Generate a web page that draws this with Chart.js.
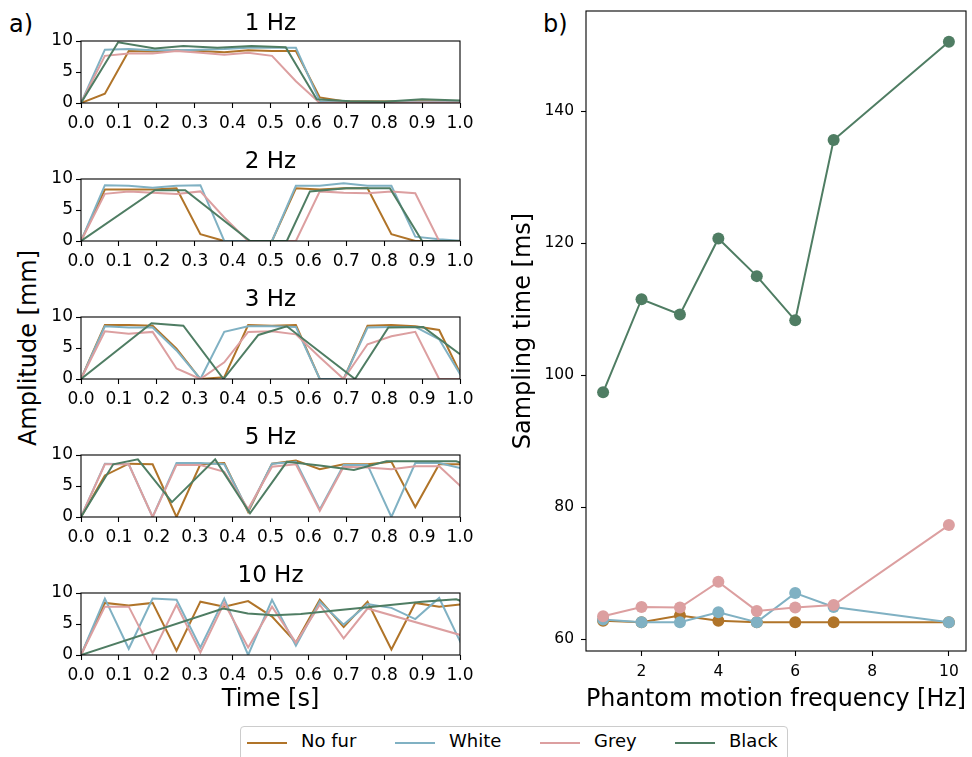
<!DOCTYPE html>
<html>
<head>
<meta charset="utf-8">
<script src="https://cdn.jsdelivr.net/npm/chart.js@4.4.1/dist/chart.umd.min.js"></script>
<style>
  html, body { margin: 0; padding: 0; background: #fff; }
  body { width: 972px; height: 757px; position: relative; overflow: hidden;
         font-family: 'DejaVu Sans', sans-serif; color: #000; }
  canvas { position: absolute; }
  .txt { position: absolute; white-space: nowrap; line-height: 1; }
  #legend { position: absolute; left: 240px; top: 726px; width: 548px; height: 44px;
            border: 1px solid #cccccc; border-radius: 4px; background: #fff; box-sizing: border-box; }
  .sw { position: absolute; height: 2px; top: 15px; width: 40px; }
  .lt { position: absolute; top: 5px; font-size: 18px; line-height: 1; white-space: nowrap; }
</style>
</head>
<body>

<div class="txt" style="left:9px;top:12px;font-size:24px;">a)</div>
<div class="txt" style="left:543px;top:12px;font-size:24px;">b)</div>
<div class="txt" style="left:28px;top:348px;font-size:24px;transform:translate(-50%,-50%) rotate(-90deg);">Amplitude [mm]</div>

<canvas id="c1" width="480" height="133" style="left:0;top:0;"></canvas>
<canvas id="c2" width="480" height="133" style="left:0;top:138px;"></canvas>
<canvas id="c3" width="480" height="133" style="left:0;top:276px;"></canvas>
<canvas id="c5" width="480" height="133" style="left:0;top:414px;"></canvas>
<canvas id="c10" width="480" height="162" style="left:0;top:552px;"></canvas>
<canvas id="cb" width="482" height="714" style="left:490px;top:0;"></canvas>

<div id="legend">
  <div class="sw" style="left:6px;background:#b07429;"></div><div class="lt" style="left:60px;">No fur</div>
  <div class="sw" style="left:154px;background:#80b1c3;"></div><div class="lt" style="left:208px;">White</div>
  <div class="sw" style="left:299px;background:#dc9fa0;"></div><div class="lt" style="left:353px;">Grey</div>
  <div class="sw" style="left:434px;background:#4f7d63;"></div><div class="lt" style="left:488px;">Black</div>
</div>

<script>
// ---- series labels and colours ----
const seriesNames = ['No fur', 'White', 'Grey', 'Black'];
const seriesColors = ['#b07429', '#80b1c3', '#dc9fa0', '#4f7d63'];

// ---- axis ticks ----
const timeTicks = [0, 0.1, 0.2, 0.3, 0.4, 0.5, 0.6, 0.7, 0.8, 0.9, 1.0];
const timeTickLabels = ['0.0', '0.1', '0.2', '0.3', '0.4', '0.5', '0.6', '0.7', '0.8', '0.9', '1.0'];
const ampTicks = [0, 5, 10];
const ampTickLabels = ['0', '5', '10'];
const freqTicks = [2, 4, 6, 8, 10];
const freqTickLabels = ['2', '4', '6', '8', '10'];
const sampTicks = [60, 80, 100, 120, 140];
const sampTickLabels = ['60', '80', '100', '120', '140'];

// ---- sample timestamps [s] ----
const tFast = [0, 0.063, 0.126, 0.189, 0.252, 0.315, 0.378, 0.441, 0.504, 0.567, 0.63, 0.693, 0.756, 0.819, 0.882, 0.945, 1.008];
const tGrey10 = [0, 0.063, 0.126, 0.189, 0.252, 0.315, 0.378, 0.441, 0.504, 0.567, 0.63, 0.693, 0.756, 1.008];
const tBlack1 = [0, 0.098, 0.195, 0.27, 0.36, 0.45, 0.54, 0.622, 0.71, 0.80, 0.90, 1.0];
const tBlack2 = [0, 0.195, 0.275, 0.446, 0.543, 0.604, 0.70, 0.815, 0.90, 1.0];
const tBlack3 = [0, 0.186, 0.27, 0.376, 0.468, 0.543, 0.723, 0.811, 0.903, 1.0];
const tBlack5 = [0, 0.085, 0.15, 0.24, 0.354, 0.446, 0.543, 0.63, 0.72, 0.806, 0.905, 0.99, 1.09];
const tBlack10 = [0, 0.375, 0.44, 0.51, 0.58, 0.69, 0.79, 0.90, 0.99, 1.08];

// ---- amplitudes [mm] ----
const noFur1 = [0, 1.5, 8.4, 8.3, 8.5, 8.4, 8.2, 8.5, 8.4, 8.4, 0.9, 0.3, 0.3, 0.3, 0.3, 0.3, 0.3];
const white1 = [0, 8.6, 8.7, 8.5, 8.5, 8.6, 8.7, 8.9, 8.9, 8.9, 0.3, 0.2, 0.2, 0.2, 0.2, 0.2, 0.2];
const grey1  = [0, 7.6, 8.0, 8.0, 8.4, 8.1, 7.8, 8.1, 7.6, 3.5, 0, 0.1, 0.1, 0.1, 0.1, 0.1, 0.1];
const black1 = [0, 9.8, 8.8, 9.2, 8.9, 9.2, 9.0, 0.6, 0.3, 0.2, 0.6, 0.4];

const noFur2 = [0, 8.3, 8.3, 8.3, 8.5, 1.1, 0, 0, 0, 8.5, 8.3, 8.5, 8.5, 1.1, 0, 0, 0];
const white2 = [0, 9.0, 8.9, 8.6, 8.9, 9.0, 0, 0, 0, 8.9, 8.9, 9.3, 8.9, 8.9, 0.7, 0.3, 0];
const grey2  = [0, 7.6, 8.0, 7.8, 7.6, 8.0, 3.8, 0, 0, 0, 8.0, 7.8, 7.7, 8.0, 7.7, 0, 0];
const black2 = [0, 8.2, 8.2, 0, 0, 8.0, 8.5, 8.5, 0, 0];

const noFur3 = [0, 8.7, 8.7, 8.6, 4.9, 0, 0.3, 8.7, 8.6, 8.7, 0, 0, 8.6, 8.7, 8.5, 7.9, 0];
const white3 = [0, 8.5, 8.3, 8.3, 4.6, 0, 7.6, 8.5, 8.5, 8.4, 0, 0, 8.3, 8.4, 8.4, 6.4, 0];
const grey3  = [0, 7.7, 7.3, 7.6, 1.7, 0, 2.7, 7.6, 7.7, 7.2, 3.5, 0, 5.6, 6.9, 7.6, 0, 0];
const black3 = [0, 9.0, 8.6, 0, 7.1, 8.5, 0, 8.3, 8.4, 4.0];

const noFur5 = [0, 6.7, 8.6, 8.5, 0, 8.5, 8.7, 0.8, 8.6, 9.1, 7.7, 8.5, 8.5, 8.9, 1.6, 8.5, 8.5];
const white5 = [0, 8.6, 8.5, 0, 8.7, 8.7, 8.5, 1.0, 8.6, 8.9, 1.2, 8.4, 8.4, 0, 8.7, 8.7, 7.8];
const grey5  = [0, 8.5, 8.5, 0, 8.4, 8.4, 7.3, 1.3, 8.1, 8.5, 1.0, 8.1, 8.0, 7.7, 8.2, 8.2, 4.6];
const black5 = [0, 8.5, 9.3, 2.4, 9.3, 0.6, 8.9, 8.3, 7.6, 9.0, 9.0, 9.0, 7.0];

const noFur10 = [0, 8.4, 8.0, 8.4, 0.7, 8.6, 7.8, 8.7, 6.2, 2.0, 8.9, 4.5, 8.6, 0.9, 8.4, 7.8, 8.2];
const white10 = [0, 9.1, 1.0, 9.1, 8.9, 1.2, 9.1, 0, 8.9, 1.5, 8.6, 4.9, 8.2, 7.6, 5.8, 9.2, 1.2];
const grey10  = [0, 7.8, 7.8, 0.3, 8.1, 0.4, 8.4, 1.2, 7.8, 2.0, 8.1, 2.7, 7.5, 3.1];
const black10 = [0, 7.5, 6.7, 6.4, 6.6, 7.3, 7.9, 8.6, 9.0, 7.0];

// ---- mean sampling time [ms] per phantom frequency ----
const freqs = [1, 2, 3, 4, 5, 6, 7, 10];
const noFurSampling = [62.8, 62.6, 63.6, 62.8, 62.6, 62.6, 62.6, 62.6];
const whiteSampling = [63.0, 62.6, 62.6, 64.1, 62.6, 67.0, 64.9, 62.6];
const greySampling  = [63.5, 64.9, 64.8, 68.7, 64.3, 64.8, 65.2, 77.3];
const blackSampling = [97.4, 111.5, 109.2, 120.7, 115.0, 108.3, 135.6, 150.5];

Chart.defaults.font.family = "'DejaVu Sans', sans-serif";
Chart.defaults.color = '#000';

// full rectangular frame around the plotting area
const framePlugin = {
  id: 'frame',
  afterDatasetsDraw(chart) {
    const { ctx, chartArea: a } = chart;
    ctx.save();
    ctx.strokeStyle = '#000';
    ctx.lineWidth = 1.1;
    ctx.strokeRect(a.left, a.top, a.right - a.left, a.bottom - a.top);
    ctx.restore();
  }
};

const pairs = (xs, ys) => ys.map((y, i) => ({ x: xs[i], y }));

const tickGrid = { display: true, drawOnChartArea: false, drawTicks: true,
                   tickLength: 5, tickColor: '#000', tickWidth: 1.1 };

function lineSet(k, xs, ys, extra) {
  return Object.assign({
    label: seriesNames[k], data: pairs(xs, ys),
    borderColor: seriesColors[k], backgroundColor: seriesColors[k],
    borderWidth: 2, pointRadius: 0, tension: 0, fill: false,
    order: 4 - k
  }, extra || {});
}

function ampChart(id, title, sets, xTitle) {
  const canvas = document.getElementById(id);
  const xh = canvas.height - 41 - 62;
  return new Chart(canvas, {
    type: 'line',
    data: { datasets: sets },
    options: {
      responsive: false, animation: false, devicePixelRatio: 1,
      layout: { padding: { left: 0, right: 20, top: 0, bottom: 0 } },
      plugins: {
        legend: { display: false }, tooltip: { enabled: false },
        title: { display: true, text: title, fullSize: false,
                 font: { size: 23, weight: 'normal' }, color: '#000',
                 padding: { top: 10, bottom: 3.4 } }
      },
      scales: {
        x: {
          type: 'linear', min: 0, max: 1,
          afterBuildTicks: s => { s.ticks = timeTicks.map(v => ({ value: v })); },
          afterFit: s => { s.height = xh; },
          ticks: { callback: (v, i) => timeTickLabels[i], font: { size: 17 },
                   color: '#000', padding: 5, maxRotation: 0, autoSkip: false },
          grid: tickGrid, border: { display: false },
          title: { display: !!xTitle, text: xTitle || '', font: { size: 24 },
                   color: '#000', padding: { top: 0, bottom: 0 } }
        },
        y: {
          type: 'linear', min: 0, max: 10,
          afterBuildTicks: s => { s.ticks = ampTicks.map(v => ({ value: v })); },
          afterFit: s => { s.width = 81; },
          ticks: { callback: (v, i) => ampTickLabels[i], font: { size: 17 },
                   color: '#000', padding: 3 },
          grid: tickGrid, border: { display: false }
        }
      }
    },
    plugins: [framePlugin]
  });
}

ampChart('c1', '1 Hz', [
  lineSet(0, tFast, noFur1), lineSet(1, tFast, white1),
  lineSet(2, tFast, grey1), lineSet(3, tBlack1, black1)
]);
ampChart('c2', '2 Hz', [
  lineSet(0, tFast, noFur2), lineSet(1, tFast, white2),
  lineSet(2, tFast, grey2), lineSet(3, tBlack2, black2)
]);
ampChart('c3', '3 Hz', [
  lineSet(0, tFast, noFur3), lineSet(1, tFast, white3),
  lineSet(2, tFast, grey3), lineSet(3, tBlack3, black3)
]);
ampChart('c5', '5 Hz', [
  lineSet(0, tFast, noFur5), lineSet(1, tFast, white5),
  lineSet(2, tFast, grey5), lineSet(3, tBlack5, black5)
]);
ampChart('c10', '10 Hz', [
  lineSet(0, tFast, noFur10), lineSet(1, tFast, white10),
  lineSet(2, tGrey10, grey10), lineSet(3, tBlack10, black10)
], 'Time [s]');

// sampling time versus phantom motion frequency
const samplingSeries = [noFurSampling, whiteSampling, greySampling, blackSampling];
new Chart(document.getElementById('cb'), {
  type: 'line',
  data: {
    datasets: samplingSeries.map((vals, k) => lineSet(k, freqs, vals, {
      pointRadius: 6, pointHoverRadius: 6, pointBorderWidth: 0,
      pointBackgroundColor: seriesColors[k], clip: false
    }))
  },
  options: {
    responsive: false, animation: false, devicePixelRatio: 1,
    layout: { padding: { left: 0, right: 5, top: 11, bottom: 0 } },
    plugins: { legend: { display: false }, tooltip: { enabled: false } },
    scales: {
      x: {
        type: 'linear', min: 0.555, max: 10.445,
        afterBuildTicks: s => { s.ticks = freqTicks.map(v => ({ value: v })); },
        afterFit: s => { s.height = 63; },
        ticks: { callback: (v, i) => freqTickLabels[i], font: { size: 15.5 },
                 color: '#000', padding: 7, maxRotation: 0, autoSkip: false },
        grid: tickGrid, border: { display: false },
        title: { display: true, text: 'Phantom motion frequency [Hz]', font: { size: 24 },
                 color: '#000', padding: { top: 0, bottom: 0 } }
      },
      y: {
        type: 'linear', min: 58.23, max: 155.15,
        afterBuildTicks: s => { s.ticks = sampTicks.map(v => ({ value: v })); },
        afterFit: s => { s.width = 96; s.paddingTop = 0; s.paddingBottom = 0; },
        ticks: { callback: (v, i) => sampTickLabels[i], font: { size: 15.5 },
                 color: '#000', padding: 7 },
        grid: tickGrid, border: { display: false },
        title: { display: true, text: 'Sampling time [ms]', font: { size: 24 },
                 color: '#000', padding: { top: 19, bottom: 0 } }
      }
    }
  },
  plugins: [framePlugin]
});
</script>
</body>
</html>
